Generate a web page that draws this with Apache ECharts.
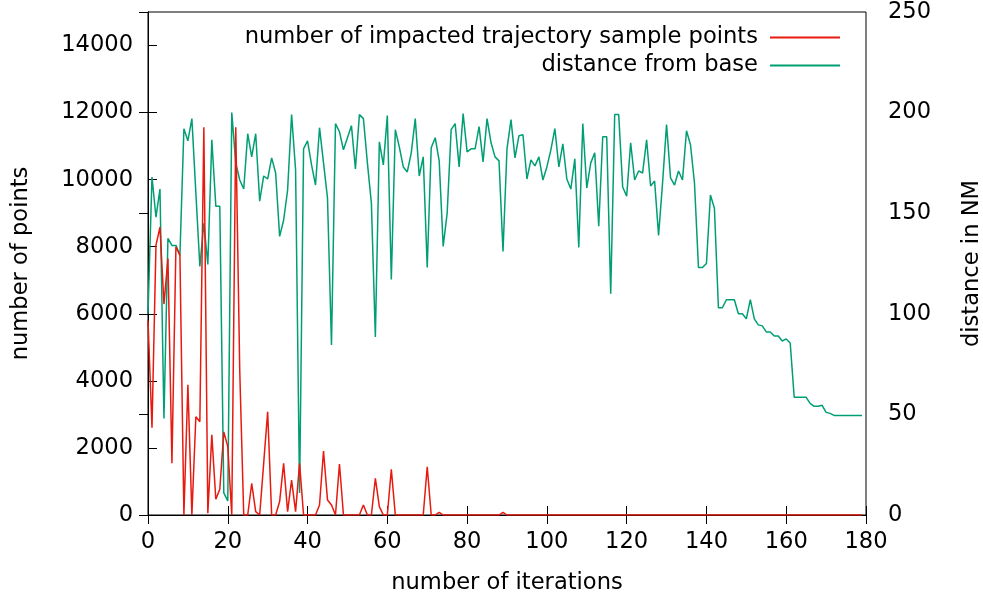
<!DOCTYPE html>
<html>
<head>
<meta charset="utf-8">
<script src="https://cdn.jsdelivr.net/npm/echarts@6/dist/echarts.min.js"></script>
<style>
html,body{margin:0;padding:0;background:#fff;}
#chart{width:983px;height:599px;}
</style>
</head>
<body>
<div id="chart"></div>
<script>
// x axis: number of iterations (one value per iteration, starting at 0)
const xTicks = [0, 20, 40, 60, 80, 100, 120, 140, 160, 180];
const leftTicks = [0, 2000, 4000, 6000, 8000, 10000, 12000, 14000];
const rightTicks = [0, 50, 100, 150, 200, 250];

// number of impacted trajectory sample points (left axis)
const impactedPoints = [
  5800, 2600, 8050, 8580, 6290, 7650, 1540, 8000, 7750, 0,
  3880, 0, 2930, 2780, 11560, 50, 2390, 470, 770, 2480,
  2040, 0, 11560, 4300, 0, 0, 940, 100, 0, 1540,
  3080, 0, 0, 400, 1540, 100, 1040, 100, 1540, 0,
  0, 0, 0, 300, 1910, 450, 300, 0, 1520, 0,
  0, 0, 0, 0, 300, 0, 0, 1090, 250, 0,
  0, 1360, 0, 0, 0, 0, 0, 0, 0, 0,
  1440, 0, 0, 80, 0, 0, 0, 0, 0, 0,
  0, 0, 0, 0, 0, 0, 0, 0, 0, 80,
  0, 0, 0, 0, 0, 0, 0, 0, 0, 0,
  0, 0, 0, 0, 0, 0, 0, 0, 0, 0,
  0, 0, 0, 0, 0, 0, 0, 0, 0, 0,
  0, 0, 0, 0, 0, 0, 0, 0, 0, 0,
  0, 0, 0, 0, 0, 0, 0, 0, 0, 0,
  0, 0, 0, 0, 0, 0, 0, 0, 0, 0,
  0, 0, 0, 0, 0, 0, 0, 0, 0, 0,
  0, 0, 0, 0, 0, 0, 0, 0, 0, 0,
  0, 0, 0, 0, 0, 0, 0, 0, 0, 0
];

// distance from base in NM (right axis)
const distanceNM = [
  100, 168, 148, 162, 48, 137.5, 134, 134, 129, 192,
  186, 197, 160, 123.5, 145, 124.5, 186.5, 153.5, 153.5, 11,
  7, 200, 175, 166.5, 162, 189.5, 178, 189.5, 156, 168.5,
  167, 177.5, 170, 138.5, 146.5, 161.5, 199, 171.5, 11, 182,
  186, 174, 164, 192.5, 175, 157.5, 84.5, 194.5, 190.5, 181.5,
  187.5, 193.5, 172, 199, 197, 175, 155, 88.5, 185.5, 174,
  198.5, 117, 191.5, 183, 173, 170.5, 180, 197, 168.5, 178,
  123, 182.5, 187.5, 176, 133.5, 150, 191.5, 194.5, 173, 199.5,
  180.5, 182, 182, 193, 175.5, 197, 185, 178, 176, 131,
  182, 196.5, 177.5, 188.5, 189, 167, 176.5, 173.5, 178, 166.5,
  173, 181.5, 192, 173, 184.5, 167, 162, 177, 133, 194.5,
  162.5, 175, 180, 143.5, 188, 188, 110, 199, 199, 163,
  158.5, 185, 166.5, 171, 170, 186.5, 163.5, 166, 139, 165,
  194, 167.5, 164, 171, 166.5, 191, 184, 165, 123, 123,
  125, 159, 152.5, 103, 103, 107, 107, 107, 100, 100,
  97.5, 107, 97.5, 94.5, 94, 91, 91, 89, 89, 86.5,
  87.5, 85.5, 58.5, 58.5, 58.5, 58.5, 55.5, 54, 54, 54.5,
  51, 50.5, 49.5, 49.5, 49.5, 49.5, 49.5, 49.5, 49.5, 49.5
];

const seriesNames = ['number of impacted trajectory sample points', 'distance from base'];
const axisNames = { x: 'number of iterations', left: 'number of points', right: 'distance in NM' };

const FONT = 'DejaVu Sans';
const FS = 22.6;
const redData = impactedPoints.map((v, i) => [i, v]);
const greenData = distanceNM.map((v, i) => [i, v]);

const chart = echarts.init(document.getElementById('chart'), null, { renderer: 'canvas' });
const axisLine = { show: true, lineStyle: { color: '#000', width: 1 } };
const tick = { show: true, inside: true, length: 9, lineStyle: { color: '#000', width: 1 } };
const plain = v => String(v);

chart.setOption({
  backgroundColor: '#fff',
  animation: false,
  textStyle: { fontFamily: FONT },
  grid: { left: 148, right: 117, top: 12, bottom: 84, containLabel: false, outerBoundsMode: 'none',
          show: true, borderColor: '#000', borderWidth: 1, backgroundColor: 'transparent' },
  legend: {
    data: seriesNames,
    orient: 'vertical',
    align: 'right',
    right: 138,
    top: 21,
    itemWidth: 70,
    itemHeight: 2,
    itemGap: 5,
    icon: 'rect',
    textStyle: { fontFamily: FONT, fontSize: FS, color: '#000', lineHeight: 22, padding: [0, 7, 0, 0] }
  },
  xAxis: [
    {
      type: 'value', min: xTicks[0], max: xTicks[xTicks.length - 1], interval: 20,
      position: 'bottom',
      name: axisNames.x, nameLocation: 'middle', nameGap: 57,
      nameTextStyle: { fontFamily: FONT, fontSize: FS, color: '#000' },
      axisLine: axisLine, axisTick: tick,
      axisLabel: { fontFamily: FONT, fontSize: FS, color: '#000', margin: 16, formatter: plain },
      splitLine: { show: false }
    },
    {
      type: 'value', min: xTicks[0], max: xTicks[xTicks.length - 1], interval: 20,
      position: 'top',
      axisLine: axisLine, axisTick: tick,
      axisLabel: { show: false },
      splitLine: { show: false }
    }
  ],
  yAxis: [
    {
      type: 'value', min: 0, max: 15000, interval: 2000,
      position: 'left',
      name: axisNames.left, nameLocation: 'middle', nameRotate: 90, nameGap: 115,
      nameTextStyle: { fontFamily: FONT, fontSize: FS, color: '#000' },
      axisLine: axisLine, axisTick: tick,
      axisLabel: { fontFamily: FONT, fontSize: FS, color: '#000', margin: 15, showMaxLabel: false, formatter: plain },
      splitLine: { show: false }
    },
    {
      type: 'value', min: 0, max: 250, interval: 50,
      position: 'right',
      name: axisNames.right, nameLocation: 'middle', nameRotate: 90, nameGap: 95,
      nameTextStyle: { fontFamily: FONT, fontSize: FS, color: '#000' },
      axisLine: axisLine, axisTick: tick,
      axisLabel: { fontFamily: FONT, fontSize: FS, color: '#000', margin: 22, formatter: plain },
      splitLine: { show: false }
    }
  ],
  series: [
    {
      name: seriesNames[0], type: 'line', xAxisIndex: 0, yAxisIndex: 0,
      data: redData, showSymbol: false, symbol: 'none',
      color: '#e8190f',
      lineStyle: { color: '#e8190f', width: 1.5 },
      z: 3
    },
    {
      name: seriesNames[1], type: 'line', xAxisIndex: 0, yAxisIndex: 1,
      data: greenData, showSymbol: false, symbol: 'none',
      color: '#009e73',
      lineStyle: { color: '#009e73', width: 1.5 },
      z: 2
    }
  ]
});
</script>
</body>
</html>
